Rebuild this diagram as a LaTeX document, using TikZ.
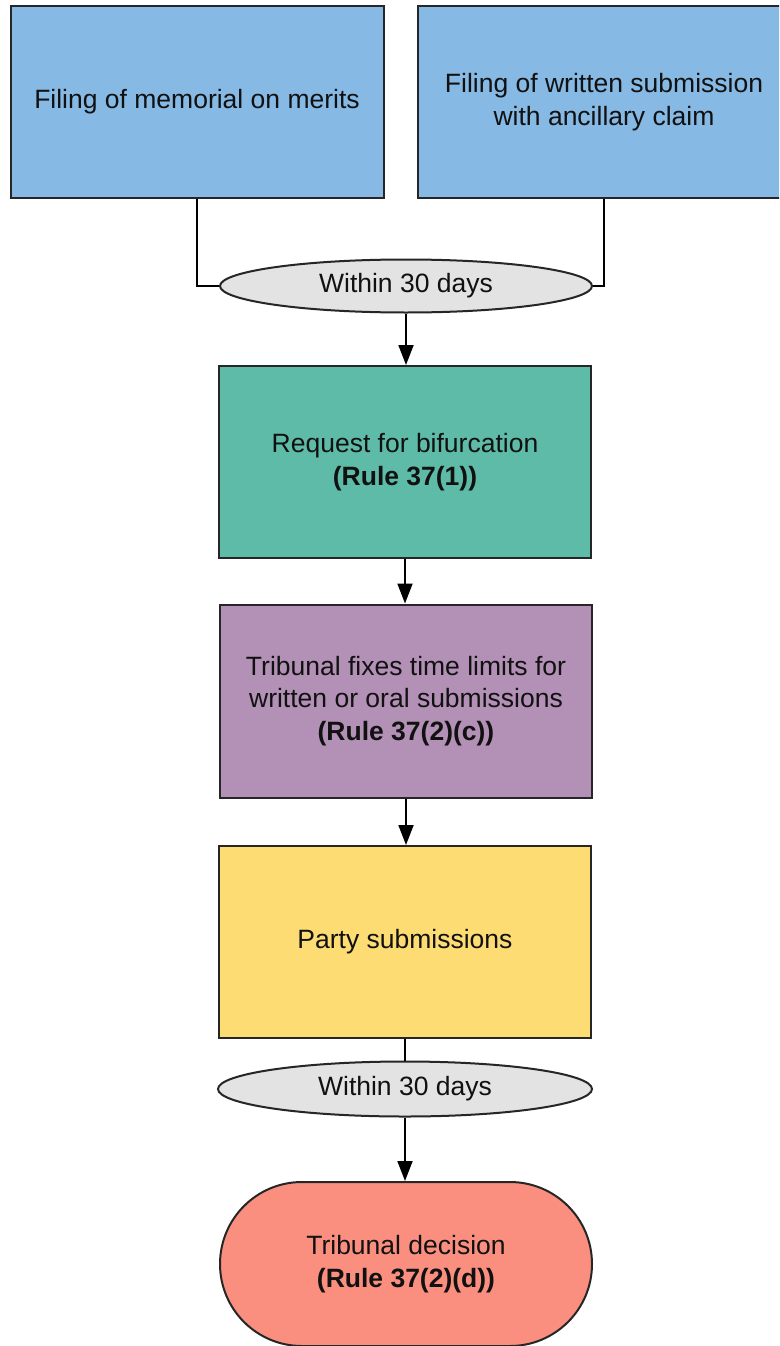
\documentclass[tikz,border=0pt]{standalone}
\usepackage{fontspec}
\setmainfont{Liberation Sans}
\usetikzlibrary{shapes.geometric,arrows.meta}
\definecolor{cblue}{HTML}{86B9E4}
\definecolor{cgreen}{HTML}{5DBBA8}
\definecolor{cpurple}{HTML}{B390B5}
\definecolor{cyellow}{HTML}{FDDC73}
\definecolor{cred}{HTML}{FA8F80}
\definecolor{cgray}{HTML}{E3E3E3}
\definecolor{ctext}{HTML}{111111}
\tikzset{
  x=1pt, y=1pt,
  boxbase/.style={draw=black!85, line width=2pt, align=center, text=ctext,
    font=\fontsize{26.5}{32.5}\selectfont, inner sep=4pt},
  stepbox/.style={boxbase, rectangle, minimum width=372pt, minimum height=192pt},
  waitnode/.style={boxbase, ellipse, fill=cgray, inner sep=0pt, minimum width=372pt, minimum height=53pt},
  endbox/.style={boxbase, rectangle, rounded corners=82pt, minimum width=372pt, minimum height=164pt},
  conn/.style={draw=black, line width=1.8pt},
  arr/.style={conn, -{Triangle[length=20pt,width=15pt]}}
}
\begin{document}
\begin{tikzpicture}
\clip (0,0) rectangle (779,-1346);
\fill[white] (0,0) rectangle (779,-1346);
\node[stepbox, fill=cblue, minimum width=373pt, minimum height=191pt] (memo) at (197,-102) {Filing of memorial on merits};
\node[stepbox, fill=cblue, minimum height=191pt] (wsub) at (604,-102) {Filing of written submission\\with ancillary claim};
\node[waitnode] (e1) at (406,-286) {Within 30 days};
\node[stepbox, fill=cgreen] (bif) at (405,-462) {Request for bifurcation\\\textbf{(Rule 37(1))}};
\node[stepbox, fill=cpurple, minimum height=193pt] (fix) at (406,-701) {Tribunal fixes time limits for\\written or oral submissions\\\textbf{(Rule 37(2)(c))}};
\node[stepbox, fill=cyellow] (party) at (405,-942) {Party submissions};
\node[waitnode, minimum width=374pt, minimum height=55pt] (e2) at (405,-1089) {Within 30 days};
\node[endbox, fill=cred] (dec) at (406,-1264) {Tribunal decision\\\textbf{(Rule 37(2)(d))}};
\draw[conn] (memo.south) |- (e1.west);
\draw[conn] (wsub.south) |- (e1.east);
\draw[arr] (e1.south) -- (e1.south |- bif.north);
\draw[arr] (bif.south) -- (bif.south |- fix.north);
\draw[arr] (fix.south) -- (fix.south |- party.north);
\draw[conn] (party.south) -- (party.south |- e2.north);
\draw[arr] (e2.south) -- (e2.south |- dec.north);
\end{tikzpicture}
\end{document}
